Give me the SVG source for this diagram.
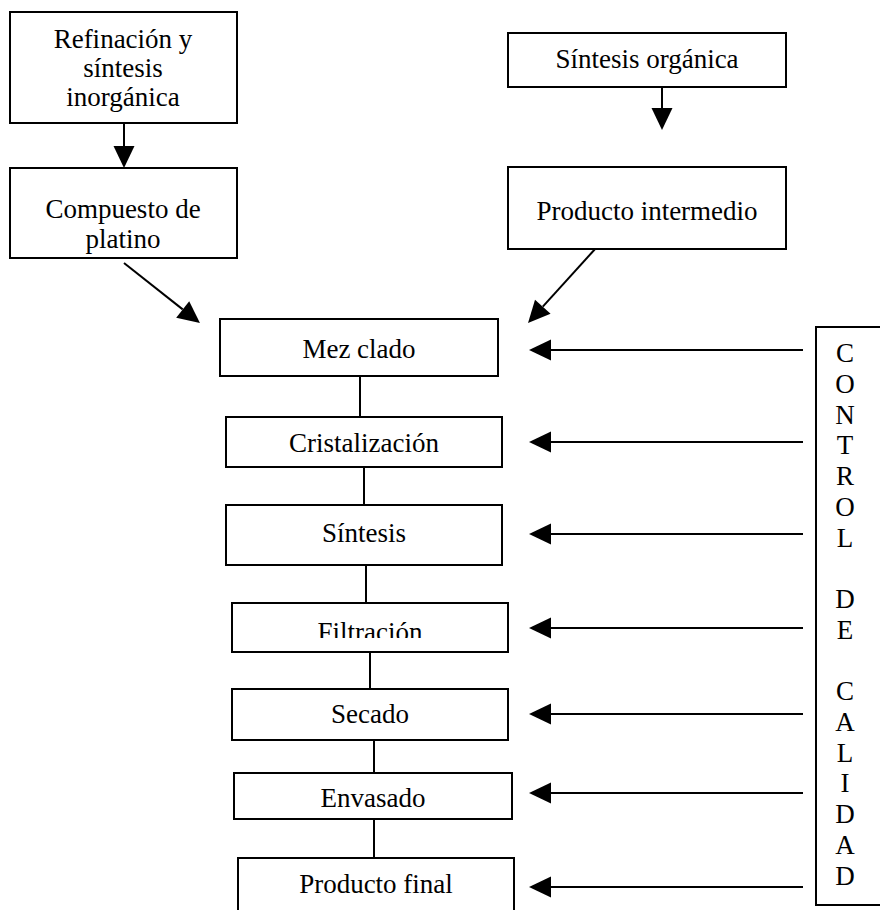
<svg xmlns="http://www.w3.org/2000/svg" width="880" height="910" viewBox="0 0 880 910">
  <defs>
    <style>
      .box { fill: #ffffff; stroke: #000000; stroke-width: 2; }
      .lbl { font-family: "Liberation Serif", "Times New Roman", serif; font-size: 27px; fill: #000000; text-anchor: middle; }
      .link { fill: none; stroke: #000000; stroke-width: 2; stroke-linecap: butt; }
      .arrow { fill: none; stroke: #000000; stroke-width: 2; stroke-linecap: butt; marker-end: url(#head); }
    </style>
    <marker id="head" markerUnits="userSpaceOnUse" markerWidth="22" markerHeight="21" refX="0" refY="10.5" orient="auto" overflow="visible">
      <path d="M0,0 L22,10.5 L0,21 Z" fill="#000000"/>
    </marker>
    <clipPath id="clip-filtracion">
      <rect x="232" y="603" width="276" height="35"/>
    </clipPath>
  </defs>

  <rect width="880" height="910" fill="#ffffff"/>

  <!-- process connectors -->
  <g id="connectors">
    <!-- raw material arrows -->
    <line class="arrow" x1="124" y1="123" x2="124" y2="146"/>
    <line class="arrow" x1="662" y1="82" x2="662" y2="108"/>
    <line class="arrow" x1="124" y1="263" x2="182.7" y2="309.4"/>
    <line class="arrow" x1="596" y1="248" x2="542.8" y2="306.7"/>
    <!-- links between production steps -->
    <line class="link" x1="360" y1="376" x2="360" y2="417"/>
    <line class="link" x1="364" y1="465" x2="364" y2="505"/>
    <line class="link" x1="366" y1="563" x2="366" y2="603"/>
    <line class="link" x1="370" y1="650" x2="370" y2="689"/>
    <line class="link" x1="374" y1="737" x2="374" y2="773"/>
    <line class="link" x1="374" y1="819" x2="374" y2="858"/>
    <!-- quality control arrows -->
    <line class="arrow" x1="803" y1="350" x2="551" y2="350"/>
    <line class="arrow" x1="803" y1="442" x2="551" y2="442"/>
    <line class="arrow" x1="803" y1="534" x2="551" y2="534"/>
    <line class="arrow" x1="803" y1="628" x2="551" y2="628"/>
    <line class="arrow" x1="803" y1="714" x2="551" y2="714"/>
    <line class="arrow" x1="803" y1="793" x2="551" y2="793"/>
    <line class="arrow" x1="803" y1="887" x2="551" y2="887"/>
  </g>

  <g id="refinacion">
    <rect class="box" x="10" y="12" width="227" height="111"/>
    <text class="lbl" x="123" y="48">Refinación y</text>
    <text class="lbl" x="123" y="77">síntesis</text>
    <text class="lbl" x="123" y="106">inorgánica</text>
  </g>

  <g id="compuesto">
    <rect class="box" x="10" y="168" width="227" height="90"/>
    <text class="lbl" x="123" y="218">Compuesto de</text>
    <text class="lbl" x="123" y="248">platino</text>
  </g>

  <g id="sintesis-organica">
    <rect class="box" x="508" y="33" width="278" height="54"/>
    <text class="lbl" x="647" y="68">Síntesis orgánica</text>
  </g>

  <g id="producto-intermedio">
    <rect class="box" x="508" y="167" width="278" height="82"/>
    <text class="lbl" x="647" y="220">Producto intermedio</text>
  </g>

  <g id="mezclado">
    <rect class="box" x="220" y="319" width="278" height="57"/>
    <text class="lbl" x="359" y="358">Mez clado</text>
  </g>

  <g id="cristalizacion">
    <rect class="box" x="226" y="417" width="276" height="50"/>
    <text class="lbl" x="364" y="452">Cristalización</text>
  </g>

  <g id="sintesis">
    <rect class="box" x="226" y="505" width="276" height="60"/>
    <text class="lbl" x="364" y="542">Síntesis</text>
  </g>

  <g id="filtracion">
    <rect class="box" x="232" y="603" width="276" height="49"/>
    <text class="lbl" x="370" y="641" clip-path="url(#clip-filtracion)">Filtración</text>
  </g>

  <g id="secado">
    <rect class="box" x="232" y="689" width="276" height="51"/>
    <text class="lbl" x="370" y="723">Secado</text>
  </g>

  <g id="envasado">
    <rect class="box" x="234" y="773" width="278" height="46"/>
    <text class="lbl" x="373" y="807">Envasado</text>
  </g>

  <g id="producto-final">
    <rect class="box" x="238" y="858" width="276" height="70"/>
    <text class="lbl" x="376" y="893">Producto final</text>
  </g>

  <g id="control-calidad">
    <rect class="box" x="816" y="327" width="80" height="578"/>
    <text class="lbl" x="845" y="362">C</text>
    <text class="lbl" x="845" y="393">O</text>
    <text class="lbl" x="845" y="424">N</text>
    <text class="lbl" x="845" y="454">T</text>
    <text class="lbl" x="845" y="485">R</text>
    <text class="lbl" x="845" y="516">O</text>
    <text class="lbl" x="845" y="547">L</text>
    <text class="lbl" x="845" y="608">D</text>
    <text class="lbl" x="845" y="639">E</text>
    <text class="lbl" x="845" y="700">C</text>
    <text class="lbl" x="845" y="731">A</text>
    <text class="lbl" x="845" y="762">L</text>
    <text class="lbl" x="845" y="792">I</text>
    <text class="lbl" x="845" y="823">D</text>
    <text class="lbl" x="845" y="854">A</text>
    <text class="lbl" x="845" y="885">D</text>
  </g>
</svg>
